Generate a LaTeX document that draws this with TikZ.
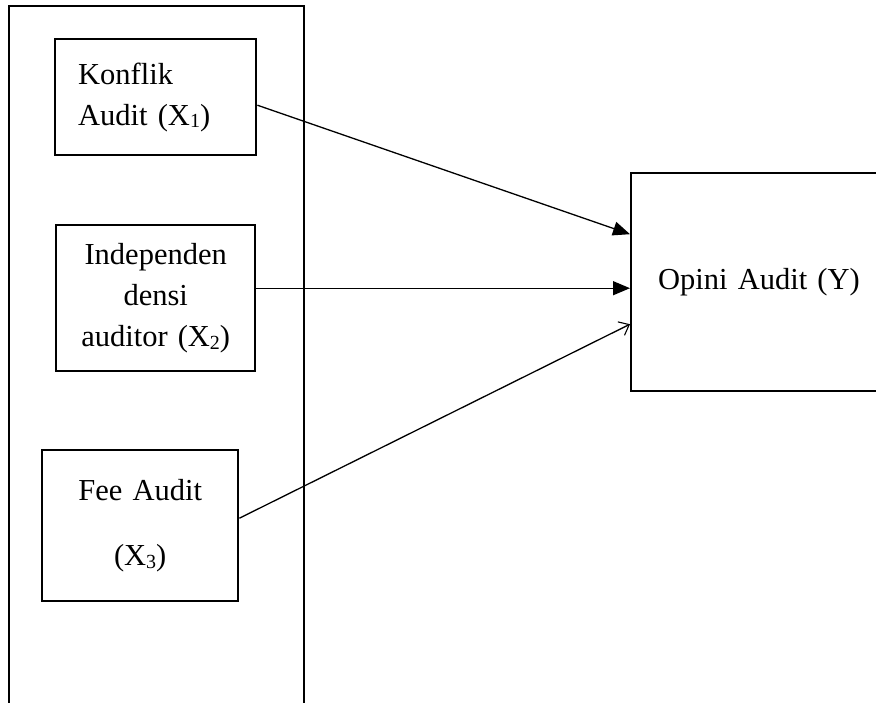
\documentclass[tikz,border=0pt]{standalone}
\usepackage{fontspec}
\setmainfont{Liberation Serif}
\usetikzlibrary{arrows.meta}
\newcommand{\sbs}[1]{{\fontsize{20}{20}\selectfont\raisebox{-2.5pt}{#1}}}
\begin{document}
\begin{tikzpicture}[x=1pt,y=-1pt,
  varbox/.style={draw, line width=2.4pt, inner sep=0pt, font=\fontsize{30.5}{41}\selectfont},
  link/.style={line width=1.3pt},
  solidhead/.style={-{Triangle[length=17pt,width=14pt]}},
  openhead/.style={-{Straight Barb[length=9pt,width=15pt,line width=1.1pt]}}]
\useasboundingbox (0,0) rectangle (876,702);
\fill[white] (0,0) rectangle (876,702);
% outer frame
\draw[line width=1.3pt] (9,720) -- (9,6) -- (304,6) -- (304,720);
% variable boxes
\node (b1) [varbox, anchor=north west, minimum width=201pt, minimum height=116pt,
  text width=155pt, align=left, inner xsep=23pt] at (54,38)
  {Konflik\\Audit (X\sbs{1})};
\node (b2) [varbox, anchor=north west, minimum width=199pt, minimum height=146pt,
  text width=180pt, align=center] at (55,224)
  {Independen\\densi\\auditor (X\sbs{2})};
\node (b3) [varbox, anchor=north west, minimum width=196pt, minimum height=151pt,
  text width=180pt, align=center] at (41,449)
  {Fee Audit\\[24pt](X\sbs{3})\\[6pt]};
\node (y) [varbox, anchor=north west, minimum width=270pt, minimum height=218pt,
  text width=216pt, align=left, inner xsep=27pt] at (630,172)
  {Opini Audit (Y)\\[8pt]};
% connectors
\draw[link, solidhead] ([yshift=-8pt]b1.east) -- ([yshift=48pt]y.west);
\draw[link, solidhead] ([yshift=10pt]b2.east) -- ([yshift=-6pt]y.west);
\draw[link, openhead] ([yshift=7.5pt]b3.east) -- ([yshift=-42pt]y.west);
\end{tikzpicture}
\end{document}
